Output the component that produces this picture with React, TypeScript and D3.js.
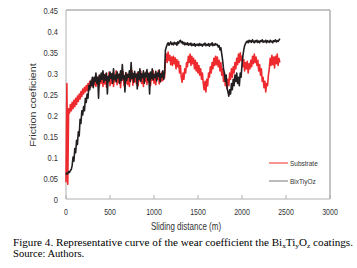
import React from "react";
import * as d3 from "d3";

const STEP = 10; // sampling step in metres
const substrate = [
  0.04, 0.275, 0.035, 0.215, 0.205, 0.225, 0.21, 0.23, 0.215, 0.235, 0.22,
  0.24, 0.225, 0.245, 0.232, 0.25, 0.238, 0.256, 0.244, 0.262, 0.25,
  0.266, 0.255, 0.27, 0.258, 0.275, 0.262, 0.28, 0.266, 0.284, 0.27,
  0.286, 0.272, 0.29, 0.268, 0.285, 0.274, 0.292, 0.27, 0.288, 0.276,
  0.29, 0.268, 0.295, 0.274, 0.298, 0.266, 0.288, 0.279, 0.302, 0.27,
  0.292, 0.275, 0.3, 0.268, 0.289, 0.281, 0.305, 0.272, 0.294, 0.277,
  0.298, 0.265, 0.291, 0.283, 0.303, 0.27, 0.288, 0.276, 0.299, 0.273,
  0.294, 0.268, 0.29, 0.284, 0.306, 0.271, 0.292, 0.279, 0.297, 0.274,
  0.3, 0.27, 0.293, 0.282, 0.304, 0.275, 0.29, 0.268, 0.296, 0.28,
  0.302, 0.273, 0.295, 0.278, 0.3, 0.27, 0.291, 0.283, 0.305, 0.276,
  0.297, 0.272, 0.293, 0.285, 0.306, 0.274, 0.298, 0.28, 0.302, 0.282,
  0.3, 0.288, 0.33, 0.345, 0.325, 0.35, 0.33, 0.342, 0.32, 0.338,
  0.318, 0.34, 0.322, 0.336, 0.31, 0.332, 0.315, 0.328, 0.3, 0.318,
  0.29, 0.278, 0.3, 0.285, 0.31, 0.3, 0.325, 0.315, 0.34, 0.325,
  0.345, 0.318, 0.34, 0.322, 0.335, 0.31, 0.33, 0.305, 0.325, 0.3,
  0.318, 0.295, 0.31, 0.285, 0.3, 0.275, 0.26, 0.28, 0.255, 0.285,
  0.27, 0.3, 0.29, 0.315, 0.3, 0.325, 0.31, 0.335, 0.318, 0.34,
  0.32, 0.338, 0.315, 0.33, 0.305, 0.325, 0.295, 0.31, 0.28, 0.3,
  0.27, 0.29, 0.262, 0.285, 0.27, 0.3, 0.285, 0.31, 0.29, 0.315,
  0.3, 0.325, 0.31, 0.335, 0.32, 0.345, 0.325, 0.348, 0.33, 0.34,
  0.315, 0.332, 0.305, 0.325, 0.31, 0.328, 0.3, 0.322, 0.31, 0.33,
  0.315, 0.34, 0.322, 0.345, 0.325, 0.338, 0.318, 0.33, 0.305, 0.32,
  0.295, 0.31, 0.28, 0.29, 0.265, 0.28, 0.255, 0.275, 0.27, 0.295,
  0.31, 0.335, 0.318, 0.342, 0.32, 0.338, 0.312, 0.34, 0.322, 0.345,
  0.318, 0.335, 0.325,
];
const coating = [
  0.058, 0.062, 0.06, 0.065, 0.063, 0.068, 0.07, 0.08, 0.1, 0.09, 0.12,
  0.11, 0.14, 0.13, 0.16, 0.15, 0.19, 0.18, 0.21, 0.2, 0.22,
  0.21, 0.24, 0.23, 0.25, 0.24, 0.27, 0.26, 0.28, 0.27, 0.29,
  0.265, 0.29, 0.28, 0.3, 0.275, 0.29, 0.24, 0.295, 0.28, 0.3,
  0.285, 0.305, 0.278, 0.296, 0.283, 0.3, 0.25, 0.292, 0.281, 0.302,
  0.287, 0.298, 0.276, 0.31, 0.284, 0.295, 0.279, 0.303, 0.288, 0.297,
  0.275, 0.305, 0.282, 0.32, 0.286, 0.294, 0.255, 0.301, 0.283, 0.296,
  0.29, 0.305, 0.28, 0.325, 0.287, 0.299, 0.278, 0.304, 0.29, 0.297,
  0.262, 0.303, 0.285, 0.31, 0.28, 0.298, 0.289, 0.305, 0.276, 0.3,
  0.291, 0.308, 0.283, 0.299, 0.25, 0.302, 0.287, 0.31, 0.284, 0.296,
  0.289, 0.304, 0.281, 0.3, 0.292, 0.307, 0.279, 0.298, 0.29, 0.305,
  0.285, 0.3, 0.355, 0.362, 0.368, 0.372, 0.366, 0.37, 0.374, 0.368,
  0.371, 0.367, 0.373, 0.369, 0.372, 0.366, 0.374, 0.37, 0.376, 0.378,
  0.372, 0.375, 0.369, 0.373, 0.367, 0.371, 0.368, 0.372, 0.366, 0.37,
  0.367, 0.371, 0.365, 0.369, 0.366, 0.37, 0.364, 0.368, 0.366, 0.369,
  0.365, 0.37, 0.366, 0.368, 0.364, 0.369, 0.367, 0.371, 0.365, 0.368,
  0.366, 0.37, 0.364, 0.369, 0.367, 0.372, 0.365, 0.369, 0.366, 0.37,
  0.367, 0.368, 0.362, 0.365, 0.355, 0.36, 0.345, 0.33, 0.31, 0.3,
  0.28, 0.295, 0.265, 0.255, 0.245, 0.26, 0.25, 0.275, 0.26, 0.285,
  0.27, 0.295, 0.28, 0.3, 0.275, 0.29, 0.27, 0.3, 0.29, 0.32,
  0.34, 0.355, 0.365, 0.37, 0.374, 0.376, 0.372, 0.378, 0.374, 0.377,
  0.373, 0.379, 0.375, 0.372, 0.377, 0.374, 0.378, 0.373, 0.376, 0.372,
  0.377, 0.375, 0.379, 0.373, 0.376, 0.374, 0.378, 0.372, 0.377, 0.375,
  0.373, 0.378, 0.374, 0.376, 0.372, 0.377, 0.375, 0.379, 0.374, 0.377,
  0.375, 0.378, 0.382,
];
const xTicks = [0, 500, 1000, 1500, 2000, 2500, 3000];
const yTicks = [0, 0.05, 0.1, 0.15, 0.2, 0.25, 0.3, 0.35, 0.4, 0.45];
const seriesNames = ["Substrate", "BixTiyOz"];

const W = 357, H = 268;
const M = { left: 66, right: 330, top: 10, bottom: 199 };
const SANS = "'Liberation Sans', Arial, sans-serif";
const SERIF = "'Liberation Serif', 'Times New Roman', serif";
const SY = 1.25; // vertical stretch of the original figure

function Stretched({ x, y, anchor, size, children, fill = "#333", rotate = 0 }: any) {
  return (
    <g transform={`translate(${x},${y}) scale(1,${SY}) rotate(${rotate})`}>
      <text textAnchor={anchor} fontSize={size} fontFamily={SANS} fill={fill} dominantBaseline="central">
        {children}
      </text>
    </g>
  );
}

export default function App() {
  const x = d3.scaleLinear().domain([0, 3000]).range([M.left, M.right]);
  const y = d3.scaleLinear().domain([0, 0.45]).range([M.bottom, M.top]);
  const line = d3
    .line<number>()
    .x((_, i) => x(i * STEP))
    .y((d) => y(d));

  return (
    <svg width={W} height={H} style={{ position: "absolute", left: 0, top: 0, background: "#fff" }}>
      <rect x={0} y={0} width={W} height={H} fill="#fff" />
      {/* plot frame */}
      <line x1={M.left} x2={M.right} y1={M.top} y2={M.top} stroke="#8a8a8a" strokeWidth={1} />
      <line x1={M.right} x2={M.right} y1={M.top} y2={M.bottom} stroke="#8a8a8a" strokeWidth={1} />
      <line x1={M.left} x2={M.left} y1={M.top} y2={M.bottom} stroke="#b0b0b0" strokeWidth={1} />
      <line x1={M.left} x2={M.right} y1={M.bottom} y2={M.bottom} stroke="#b0b0b0" strokeWidth={1} />
      {xTicks.map((t) => (
        <line key={t} x1={x(t)} x2={x(t)} y1={M.bottom} y2={M.bottom - 4} stroke="#b0b0b0" />
      ))}
      {/* series */}
      <path d={line(substrate) || ""} fill="none" stroke="#ee2a2f" strokeWidth={1.6} strokeLinejoin="round" />
      <path d={line(coating) || ""} fill="none" stroke="#231f20" strokeWidth={1.6} strokeLinejoin="round" />
      {/* tick labels */}
      {yTicks.map((t) => (
        <Stretched key={t} x={58} y={y(t) + 1} anchor="end" size={7.5}>
          {String(+t.toFixed(2))}
        </Stretched>
      ))}
      {xTicks.map((t) => (
        <Stretched key={t} x={x(t)} y={212} anchor="middle" size={7}>
          {String(t)}
        </Stretched>
      ))}
      <Stretched x={186} y={227} anchor="middle" size={8}>Sliding distance (m)</Stretched>
      <Stretched x={33} y={105} anchor="middle" size={8.6} rotate={-90}>Friction coeficient</Stretched>
      {/* legend */}
      <line x1={269} x2={288} y1={163} y2={163} stroke="#ee2a2f" strokeWidth={1} />
      <Stretched x={290} y={163} anchor="start" size={6.5}>{seriesNames[0]}</Stretched>
      <line x1={269} x2={288} y1={181} y2={181} stroke="#777" strokeWidth={1} />
      <Stretched x={290} y={181} anchor="start" size={6.5}>{seriesNames[1]}</Stretched>
      {/* caption */}
      <text x={13} y={246} fontFamily={SERIF} fontSize={10.6} fill="#000" textLength={340} lengthAdjust="spacingAndGlyphs">
        Figure 4. Representative curve of the wear coefficient the Bi
        <tspan fontSize={7} dy={2}>x</tspan>
        <tspan dy={-2}>Ti</tspan>
        <tspan fontSize={7} dy={2}>y</tspan>
        <tspan dy={-2}>O</tspan>
        <tspan fontSize={7} dy={2}>z</tspan>
        <tspan dy={-2}> coatings.</tspan>
      </text>
      <text x={13} y={257} fontFamily={SERIF} fontSize={10.6} fill="#000">Source: Authors.</text>
    </svg>
  );
}
